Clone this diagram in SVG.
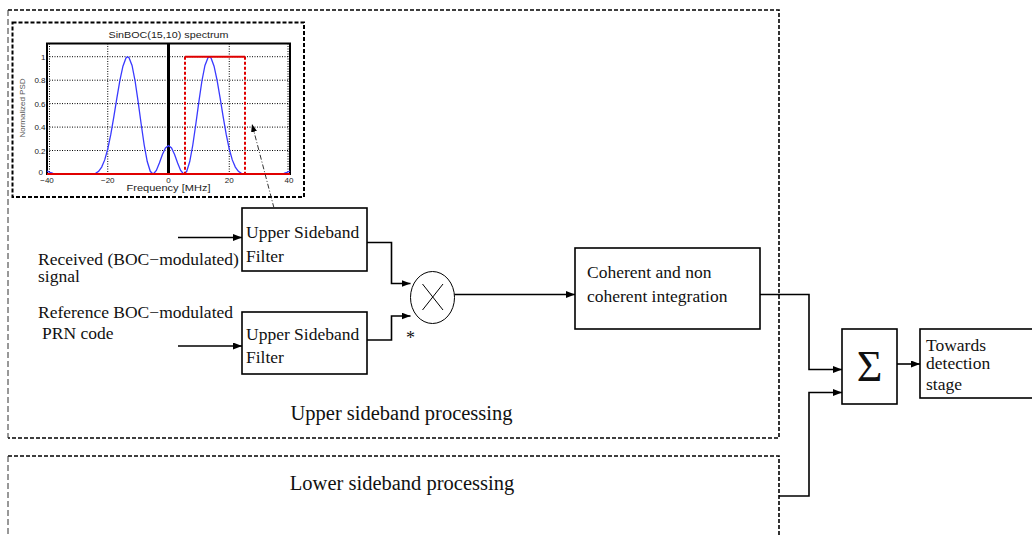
<svg xmlns="http://www.w3.org/2000/svg" width="1032" height="535" viewBox="0 0 1032 535">
<style>
.box{fill:#fff;stroke:#000;stroke-width:1.6}
.t{font-family:"Liberation Serif","Times New Roman",serif;font-size:17.5px;fill:#111}
.big{font-size:20.5px}
.conn{fill:none;stroke:#000;stroke-width:1.6;marker-end:url(#ah)}
.dash{fill:none;stroke:#000;stroke-width:1.6;stroke-dasharray:4,2}
.dashthin{fill:none;stroke:#333;stroke-width:1;stroke-dasharray:6,3}
.grid{fill:none;stroke:#000;stroke-width:1;stroke-dasharray:1,1.5}
.tick{font-family:"Liberation Sans",Arial,sans-serif;font-size:8px;fill:#222}
</style>
<defs>
<marker id="ah" markerUnits="userSpaceOnUse" markerWidth="10" markerHeight="8" refX="9" refY="3.5" orient="auto">
<path d="M0,0 L9,3.5 L0,7 z" fill="#000"/>
</marker>
<marker id="ahs" markerUnits="userSpaceOnUse" markerWidth="10" markerHeight="8" refX="8" refY="3" orient="auto">
<path d="M0,0 L8,3 L0,6 z" fill="#000"/>
</marker>
</defs>
<rect x="0" y="0" width="1032" height="535" fill="#fff"/>

<g id="upper-region">
<path class="dash" d="M8,10 H779 V438 H8"/>
<path class="dashthin" d="M8,10 V438"/>
<text class="t big" x="401.5" y="420" text-anchor="middle">Upper sideband processing</text>
</g>

<g id="lower-region">
<path class="dash" d="M8,456 H779 V535"/>
<path class="dashthin" d="M8,456 V535"/>
<text class="t big" x="402" y="490" text-anchor="middle">Lower sideband processing</text>
</g>

<g id="spectrum-plot">
<rect x="12.5" y="22.5" width="291.5" height="174.5" fill="#fff" stroke="#000" stroke-width="2" stroke-dasharray="4,2"/>
<text class="tick" x="168.5" y="38" text-anchor="middle" textLength="120" lengthAdjust="spacingAndGlyphs" style="font-size:9px">SinBOC(15,10) spectrum</text>
<g class="grid-lines">
<path class="grid" d="M47,150.5 H290 M47,127.1 H290 M47,103.6 H290 M47,80.2 H290 M47,56.7 H290 M107.75,43.5 V174 M229.25,43.5 V174 M49.5,43.5 V174 M288,43.5 V174"/>
</g>
<rect x="47" y="43.5" width="243" height="130.5" fill="none" stroke="#000" stroke-width="2"/>
<line x1="168.5" y1="43.5" x2="168.5" y2="174" stroke="#000" stroke-width="3"/>
<polyline fill="none" stroke="#3a3aff" stroke-width="1.3" points="47,171 50.04,172.4 53.07,173.4 56.11,173.9 59.15,174 62.19,174 65.22,173.9 71.3,174 77.37,174 80.41,173.9 83.45,173.9 86.49,173.9 89.52,174 90.74,174 92.56,173.9 95.6,173.3 98.64,171.3 101.67,167.1 104.71,159.9 107.75,149 110.79,134.4 113.82,116.9 116.86,98.1 119.9,80.3 122.94,66.2 125.97,58 127.49,56.8 129.01,57.7 132.05,65.4 135.09,81 138.12,101.6 141.16,124 144.2,145 147.24,161.5 150.27,171.3 152.96,174 153.31,174 156.35,170.4 159.39,162.9 162.42,154.5 165.46,148 168.5,145.6 171.54,148 174.58,154.5 177.61,162.9 180.65,170.4 183.69,174 184.04,174 186.73,171.3 189.76,161.5 192.8,145 195.84,124 198.88,101.6 201.91,81 204.95,65.4 207.99,57.7 209.51,56.8 211.03,58 214.06,66.2 217.1,80.3 220.14,98.1 223.18,116.9 226.21,134.4 229.25,149 232.29,159.9 235.33,167.1 238.36,171.3 241.4,173.3 244.44,173.9 246.26,174 247.48,174 250.51,173.9 253.55,173.9 256.59,173.9 259.63,174 265.7,174 271.78,173.9 274.81,174 277.85,174 280.89,173.9 283.93,173.4 286.96,172.4 290,171"/>
<path d="M47,174 H290" stroke="#e00000" stroke-width="2" fill="none"/>
<path d="M185,56.7 H245" stroke="#e00000" stroke-width="2" fill="none"/>
<path d="M185,56.7 V174 M245,56.7 V174" stroke="#e00000" stroke-width="2" stroke-dasharray="3,2" fill="none"/>
<text class="tick" x="45.5" y="59.5" text-anchor="end">1</text>
<text class="tick" x="45.5" y="83" text-anchor="end">0.8</text>
<text class="tick" x="45.5" y="106.5" text-anchor="end">0.6</text>
<text class="tick" x="45.5" y="130" text-anchor="end">0.4</text>
<text class="tick" x="45.5" y="153.5" text-anchor="end">0.2</text>
<text class="tick" x="43" y="175" text-anchor="end">0</text>
<text class="tick" x="47" y="183" text-anchor="middle">−40</text>
<text class="tick" x="107.75" y="183" text-anchor="middle">−20</text>
<text class="tick" x="168.5" y="183" text-anchor="middle">0</text>
<text class="tick" x="229.25" y="183" text-anchor="middle">20</text>
<text class="tick" x="289" y="183" text-anchor="middle">40</text>
<text class="tick" x="168.5" y="191" text-anchor="middle" textLength="84" lengthAdjust="spacingAndGlyphs" style="font-size:9px">Frequency [MHz]</text>
<text class="tick" x="0" y="0" text-anchor="middle" transform="translate(25,108) rotate(-90)" style="fill:#555">Normalized PSD</text>
</g>

<g id="input-labels">
<text class="t" x="38" y="265">Received (BOC−modulated)</text>
<text class="t" x="38" y="282">signal</text>
<text class="t" x="38" y="318">Reference BOC−modulated</text>
<text class="t" x="42" y="339">PRN code</text>
</g>

<g id="usb-filter-1">
<rect class="box" x="242" y="208" width="125" height="63"/>
<text class="t" x="246" y="238">Upper Sideband</text>
<text class="t" x="246" y="262">Filter</text>
</g>

<g id="usb-filter-2">
<rect class="box" x="242" y="312" width="125" height="62"/>
<text class="t" x="246" y="340">Upper Sideband</text>
<text class="t" x="246" y="363">Filter</text>
</g>

<g id="multiplier">
<ellipse cx="432.5" cy="297.5" rx="22" ry="26" fill="#fff" stroke="#000" stroke-width="1"/>
<path d="M422.5,284 L443,310 M443,284 L422.5,310" stroke="#000" stroke-width="1" fill="none"/>
<text class="t" x="410.5" y="344" text-anchor="middle" style="font-size:18px">*</text>
</g>

<g id="integration">
<rect class="box" x="575" y="248" width="185" height="81"/>
<text class="t" x="587" y="278">Coherent and non</text>
<text class="t" x="587" y="302">coherent integration</text>
</g>

<g id="sum">
<rect class="box" x="842" y="329" width="55" height="75"/>
<text class="t" x="869.5" y="381" text-anchor="middle" style="font-size:44px">Σ</text>
</g>

<g id="detection">
<rect class="box" x="920" y="329" width="114" height="69"/>
<text class="t" x="926" y="351">Towards</text>
<text class="t" x="926" y="369">detection</text>
<text class="t" x="926" y="390">stage</text>
</g>

<g id="connectors">
<path class="conn" d="M178,237.5 H242"/>
<path class="conn" d="M178,346 H242"/>
<path class="conn" d="M367,242.5 H391.5 V283.5 H410.5"/>
<path class="conn" d="M367,340 H391.5 V316 H410.5"/>
<path class="conn" d="M454.5,294.5 H575"/>
<path class="conn" d="M760,294.5 H809 V369.5 H842"/>
<path class="conn" d="M779,496 H809 V392.5 H842"/>
<path class="conn" d="M897,364 H920"/>
<path d="M274,208 L252,124" fill="none" stroke="#333" stroke-width="1" stroke-dasharray="5,2,1,2" marker-end="url(#ahs)"/>
</g>
</svg>
